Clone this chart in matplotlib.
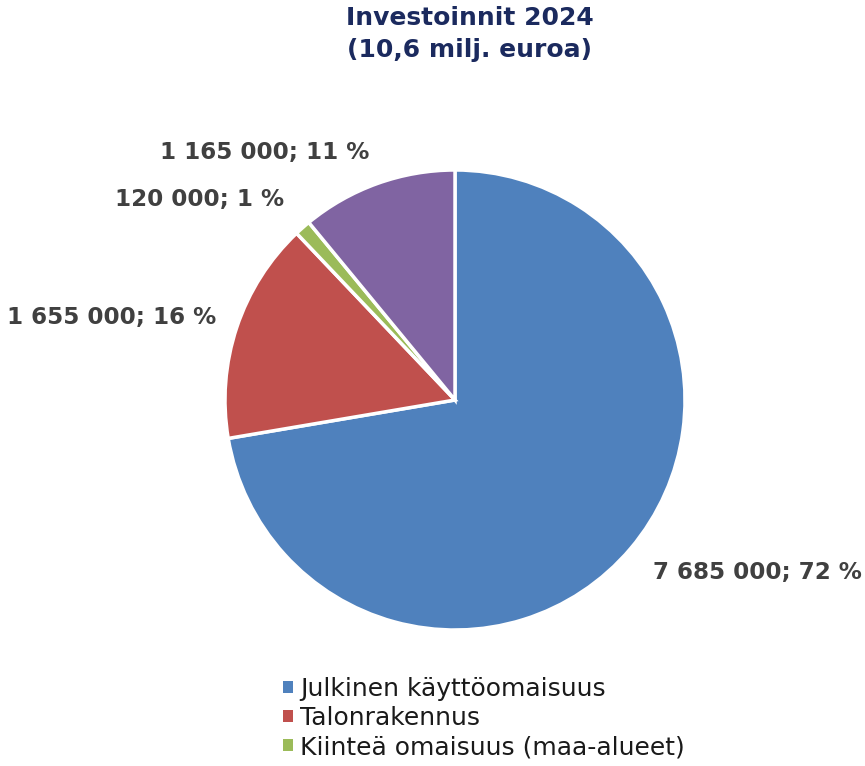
import matplotlib
matplotlib.use("Agg")
import matplotlib.pyplot as plt
from matplotlib.patches import Patch

categories = ["Julkinen käyttöomaisuus", "Talonrakennus", "Kiinteä omaisuus (maa-alueet)", "Muut"]
values = [7685000, 1655000, 120000, 1165000]
labels = ["7 685 000; 72 %", "1 655 000; 16 %", "120 000; 1 %", "1 165 000; 11 %"]
colors = ["#4F81BD", "#C0504D", "#9BBB59", "#8064A2"]
label_pos = [(1.313, -0.752), (-1.491, 0.357), (-1.109, 0.870), (-0.826, 1.074)]

fig = plt.figure(figsize=(8.65, 7.66), dpi=100)
W, H = 865, 766
r = 230
cx, cy = 455, 400
ax = fig.add_axes([(cx - r) / W, (H - cy - r) / H, 2 * r / W, 2 * r / H])
ax.pie(values, colors=colors, startangle=90, counterclock=False, radius=1,
       wedgeprops=dict(edgecolor="white", linewidth=2.5))
ax.set_xlim(-1, 1)
ax.set_ylim(-1, 1)
ax.set_aspect("equal")
ax.axis("off")

for lab, (x, y) in zip(labels, label_pos):
    ax.text(x, y, lab, ha="center", va="center", fontsize=16.6, fontweight="bold",
            color="#404040", family="DejaVu Sans", clip_on=False)

fig.text(470 / W, 1 - 34 / H, "Investoinnit 2024\n(10,6 milj. euroa)", ha="center", va="center",
         fontsize=18, fontweight="bold", color="#1B2A5E", family="DejaVu Sans", linespacing=1.42)

handles = [Patch(facecolor=c, edgecolor="none") for c in colors[:3]]
leg = fig.legend(handles, categories[:3], loc="upper left", bbox_to_anchor=(283 / W, 1 - 677 / H),
                 frameon=False, handlelength=0.38, handleheight=0.38,
                 handletextpad=0.3, labelspacing=0.2, borderpad=0, borderaxespad=0,
                 prop=dict(family="DejaVu Sans", size=18))
for t in leg.get_texts():
    t.set_color("#1a1a1a")

fig.savefig("out.png", dpi=100)
